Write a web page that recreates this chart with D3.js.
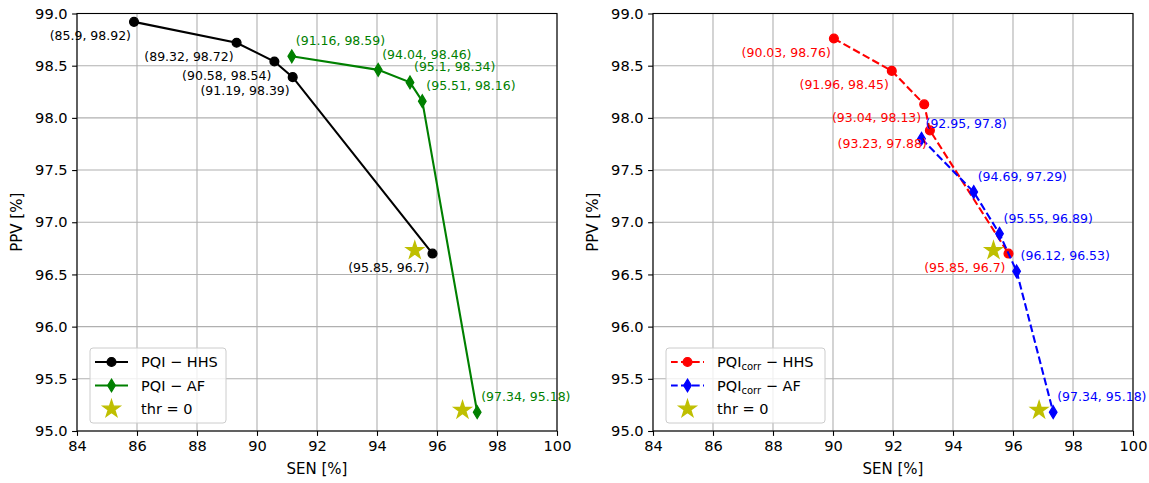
<!DOCTYPE html>
<html>
<head>
<meta charset="utf-8">
<script src="https://cdn.jsdelivr.net/npm/d3@7"></script>
<style>
  body { margin: 0; background: #fff; }
  text { font-family: "DejaVu Sans", sans-serif; }
</style>
</head>
<body>
<div id="chart"></div>
<script>
// values (SEN %, PPV %)
var senHHS = [85.9, 89.32, 90.58, 91.19, 95.85];
var ppvHHS = [98.92, 98.72, 98.54, 98.39, 96.7];
var senAF = [91.16, 94.04, 95.1, 95.51, 97.34];
var ppvAF = [98.59, 98.46, 98.34, 98.16, 95.18];

var senCorrHHS = [90.03, 91.96, 93.04, 93.23, 95.85];
var ppvCorrHHS = [98.76, 98.45, 98.13, 97.88, 96.7];
var senCorrAF = [92.95, 94.69, 95.55, 96.12, 97.34];
var ppvCorrAF = [97.8, 97.29, 96.89, 96.53, 95.18];

// thr = 0 stars
var thrSenLeft = [95.26, 96.85];
var thrPpvLeft = [96.73, 95.2];
var thrSenRight = [95.35, 96.87];
var thrPpvRight = [96.73, 95.2];

var xTicks = [84, 86, 88, 90, 92, 94, 96, 98, 100];
var yTicks = [95.0, 95.5, 96.0, 96.5, 97.0, 97.5, 98.0, 98.5, 99.0];

// svg + panel sizes
var svgWidth = 1149;
var svgHeight = 483;
var top0 = 13.5;
var width = 480;
var height = 417.5;

var svg = d3.select("#chart")
    .append("svg")
    .attr("width", svgWidth)
    .attr("height", svgHeight);

var xScale = d3.scaleLinear().domain([84, 100]).range([0, width]);
var yScale = d3.scaleLinear().domain([95, 99]).range([height, 0]);

// marker shapes
var thinDiamond = {
    draw: function(context, size) {
        var h = Math.sqrt(size);
        context.moveTo(0, -h);
        context.lineTo(h * 0.6, 0);
        context.lineTo(0, h);
        context.lineTo(-h * 0.6, 0);
        context.closePath();
    }
};

function drawMarker(g, kind, color, x, y) {
    if (kind === "circle") {
        g.append("circle")
            .attr("cx", x).attr("cy", y).attr("r", 4.4)
            .attr("fill", color).attr("stroke", color).attr("stroke-width", 1.3);
    } else if (kind === "diamond") {
        g.append("path")
            .attr("d", d3.symbol(thinDiamond, 40)())
            .attr("transform", `translate(${x},${y})`)
            .attr("fill", color).attr("stroke", color).attr("stroke-width", 1.3);
    } else {
        g.append("path")
            .attr("d", d3.symbol(d3.symbolStar, 92)())
            .attr("transform", `translate(${x},${y})`)
            .attr("fill", color).attr("stroke", color).attr("stroke-width", 1.3);
    }
}

var panels = [
    {
        left: 77,
        series: [
            {sen: senHHS, ppv: ppvHHS, color: "#000000", marker: "circle", dash: null, name: "PQI", sub: null, rest: " \u2212 HHS", side: "below"},
            {sen: senAF, ppv: ppvAF, color: "#008000", marker: "diamond", dash: null, name: "PQI", sub: null, rest: " \u2212 AF", side: "above"}
        ],
        starSen: thrSenLeft,
        starPpv: thrPpvLeft,
        legendWidth: 136
    },
    {
        left: 653,
        series: [
            {sen: senCorrHHS, ppv: ppvCorrHHS, color: "#ff0000", marker: "circle", dash: "7.7,3.3", name: "PQI", sub: "corr", rest: " \u2212 HHS", side: "below"},
            {sen: senCorrAF, ppv: ppvCorrAF, color: "#0000ff", marker: "diamond", dash: "7.7,3.3", name: "PQI", sub: "corr", rest: " \u2212 AF", side: "above"}
        ],
        starSen: thrSenRight,
        starPpv: thrPpvRight,
        legendWidth: 159
    }
];

var starColor = "#bfbf00";

panels.forEach(function(p) {
    var chartGroup = svg.append("g")
        .attr("transform", `translate(${p.left}, ${top0})`);

    // grid
    chartGroup.selectAll("line.xgrid")
        .data(xTicks).enter().append("line")
        .attr("x1", d => xScale(d)).attr("x2", d => xScale(d))
        .attr("y1", 0).attr("y2", height)
        .attr("stroke", "#b0b0b0").attr("stroke-width", 1.1);
    chartGroup.selectAll("line.ygrid")
        .data(yTicks).enter().append("line")
        .attr("y1", d => yScale(d)).attr("y2", d => yScale(d))
        .attr("x1", 0).attr("x2", width)
        .attr("stroke", "#b0b0b0").attr("stroke-width", 1.1);

    // axes
    var bottomAxis = d3.axisBottom(xScale).tickValues(xTicks)
        .tickFormat(d3.format("d")).tickSize(4.9).tickPadding(4.3).tickSizeOuter(0);
    var leftAxis = d3.axisLeft(yScale).tickValues(yTicks)
        .tickFormat(d3.format(".1f")).tickSize(4.9).tickPadding(4.5).tickSizeOuter(0);

    var xAxis = chartGroup.append("g")
        .attr("transform", `translate(0, ${height})`)
        .call(bottomAxis);
    var yAxis = chartGroup.append("g").call(leftAxis);

    [xAxis, yAxis].forEach(function(a) {
        a.select(".domain").remove();
        a.selectAll("line").attr("stroke", "#000").attr("stroke-width", 1.1);
        a.selectAll("text").attr("fill", "#000").style("font-size", "14.6px")
            .style("font-family", "'DejaVu Sans', sans-serif");
    });

    // axis labels
    chartGroup.append("text")
        .attr("x", width / 2).attr("y", 455.5)
        .attr("text-anchor", "middle").attr("dominant-baseline", "central")
        .style("font-size", "15px")
        .text("SEN [%]");
    chartGroup.append("text")
        .attr("transform", `translate(-60, ${height / 2}) rotate(-90)`)
        .attr("text-anchor", "middle").attr("dominant-baseline", "central")
        .style("font-size", "15px")
        .text("PPV [%]");

    // lines + markers
    p.series.forEach(function(s) {
        var pts = s.sen.map((d, i) => [d, s.ppv[i]]);
        var line = d3.line().x(d => xScale(d[0])).y(d => yScale(d[1]));
        chartGroup.append("path")
            .datum(pts)
            .attr("d", line)
            .attr("fill", "none")
            .attr("stroke", s.color)
            .attr("stroke-width", 2.1)
            .attr("stroke-dasharray", s.dash);
        pts.forEach(function(d) {
            drawMarker(chartGroup, s.marker, s.color, xScale(d[0]), yScale(d[1]));
        });
    });

    // stars
    p.starSen.forEach(function(d, i) {
        drawMarker(chartGroup, "star", starColor, xScale(d), yScale(p.starPpv[i]));
    });

    // annotations
    p.series.forEach(function(s) {
        s.sen.forEach(function(d, i) {
            var below = s.side === "below";
            chartGroup.append("text")
                .attr("x", xScale(d) + (below ? -3 : 4))
                .attr("y", yScale(s.ppv[i]) + (below ? 13.5 : -15.5))
                .attr("text-anchor", below ? "end" : "start")
                .attr("dominant-baseline", "central")
                .attr("fill", s.color)
                .style("font-size", "12.5px")
                .text(`(${d}, ${s.ppv[i]})`);
        });
    });

    // spines
    chartGroup.append("rect")
        .attr("x", 0).attr("y", 0).attr("width", width).attr("height", height)
        .attr("fill", "none").attr("stroke", "#000").attr("stroke-width", 1.1);

    // legend
    var legend = chartGroup.append("g")
        .attr("transform", `translate(13, ${348 - top0})`);
    legend.append("rect")
        .attr("width", p.legendWidth).attr("height", 75)
        .attr("rx", 3).attr("ry", 3)
        .attr("fill", "#fff").attr("fill-opacity", 0.8)
        .attr("stroke", "#cccccc").attr("stroke-width", 1);

    var rows = p.series.map(s => s).concat([{color: starColor, marker: "star", dash: null, name: "thr = 0", sub: null, rest: "", star: true}]);
    rows.forEach(function(s, i) {
        var ry = 14 + i * 23.5;
        if (!s.star) {
            legend.append("line")
                .attr("x1", 5).attr("x2", 38).attr("y1", ry).attr("y2", ry)
                .attr("stroke", s.color).attr("stroke-width", 2.1)
                .attr("stroke-dasharray", s.dash ? "7.7,3.3" : null)
                .attr("stroke-dashoffset", s.dash ? 1 : null);
        }
        drawMarker(legend, s.marker, s.color, 21.5, ry);
        var t = legend.append("text")
            .attr("x", 51).attr("y", ry)
            .attr("dominant-baseline", "central")
            .style("font-size", "14.5px");
        t.append("tspan").text(s.name);
        if (s.sub) {
            t.append("tspan").attr("dy", 4).style("font-size", "10px").text(s.sub);
            t.append("tspan").attr("dy", -4).text(s.rest);
        } else {
            t.append("tspan").text(s.rest);
        }
    });
});
</script>
</body>
</html>
